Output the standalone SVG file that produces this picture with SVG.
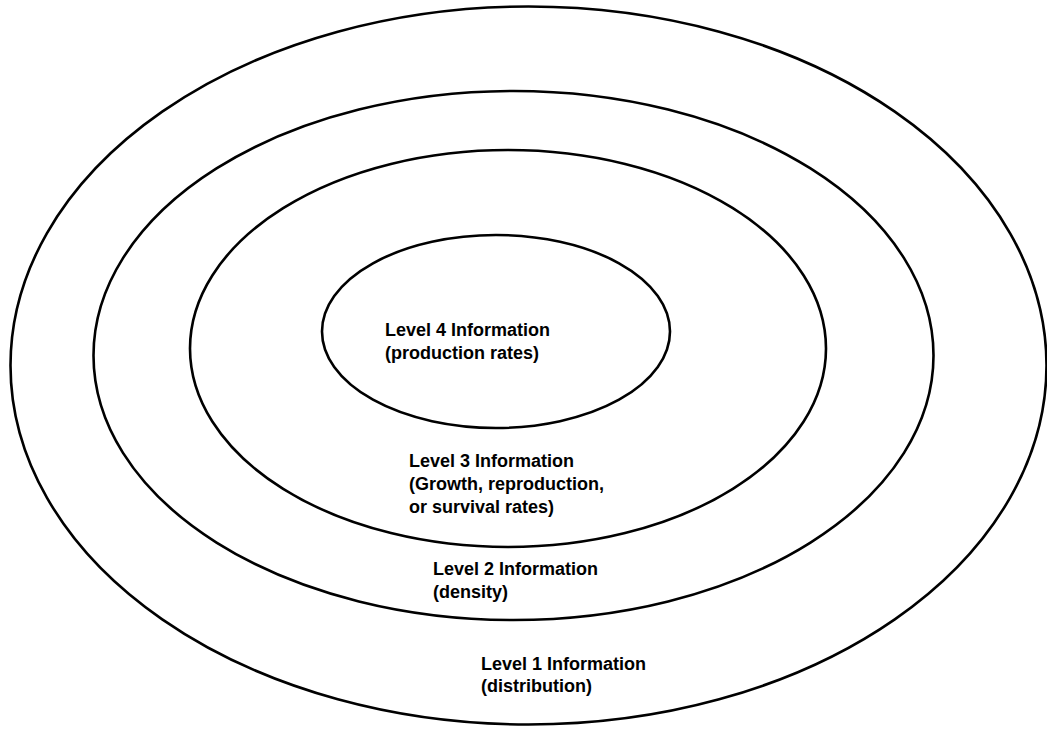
<svg xmlns="http://www.w3.org/2000/svg" width="1047" height="729" viewBox="0 0 1047 729">
<style>
.ring{fill:none;stroke:#000;stroke-width:2.6}
.lbl{font-family:"Liberation Sans",Arial,sans-serif;font-weight:bold;font-size:18px;fill:#000}
</style>
<rect width="1047" height="729" fill="#fff"/>
<g id="level1">
<ellipse class="ring" cx="528.5" cy="365.5" rx="518" ry="359"/>
<text class="lbl" x="481" y="670">Level 1 Information</text>
<text class="lbl" x="481" y="692">(distribution)</text>
</g>
<g id="level2">
<ellipse class="ring" cx="513.5" cy="355.5" rx="420" ry="264.5"/>
<text class="lbl" x="433" y="575">Level 2 Information</text>
<text class="lbl" x="433" y="598">(density)</text>
</g>
<g id="level3">
<ellipse class="ring" cx="508" cy="348.5" rx="318" ry="198.5"/>
<text class="lbl" x="409" y="467">Level 3 Information</text>
<text class="lbl" x="409" y="490">(Growth, reproduction,</text>
<text class="lbl" x="409" y="513">or survival rates)</text>
</g>
<g id="level4">
<ellipse class="ring" cx="496" cy="331.5" rx="174" ry="96.5"/>
<text class="lbl" x="385" y="336">Level 4 Information</text>
<text class="lbl" x="385" y="359">(production rates)</text>
</g>
<g id="connectors"/>
</svg>
